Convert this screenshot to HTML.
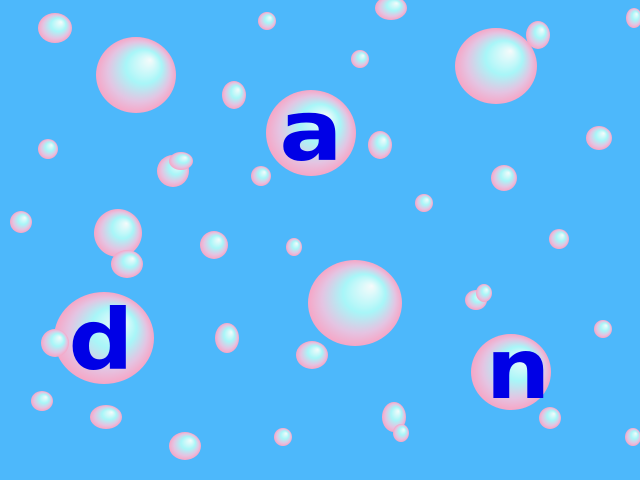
<!DOCTYPE html>
<html><head><meta charset="utf-8"><style>
html,body{margin:0;padding:0;background:#4db8fb;}
svg{display:block}
</style></head><body>
<svg width="640" height="480" viewBox="0 0 640 480" xmlns="http://www.w3.org/2000/svg">
<defs>
<radialGradient id="bg" cx="0.5" cy="0.5" r="0.5" fx="0.68" fy="0.3">
<stop offset="0" stop-color="#f6fbfb"/>
<stop offset="0.45" stop-color="#a8f6f8"/>
<stop offset="0.78" stop-color="#e4c4e2"/>
<stop offset="1" stop-color="#f6a6c6"/>
</radialGradient>
</defs>
<rect width="640" height="480" fill="#4db8fb"/>
<g id="bubbles"></g>
<text transform="translate(311,160) scale(1.12,1)" x="0" y="0" text-anchor="middle" font-family="DejaVu Sans, sans-serif" font-weight="bold" font-size="84" fill="#0000e6">a</text>
<text transform="translate(101,369) scale(1.08,1)" x="0" y="0" text-anchor="middle" font-family="DejaVu Sans, sans-serif" font-weight="bold" font-size="84" fill="#0000e6">d</text>
<text transform="translate(518,398) scale(1.08,1)" x="0" y="0" text-anchor="middle" font-family="DejaVu Sans, sans-serif" font-weight="bold" font-size="84" fill="#0000e6">n</text>
</svg>
<script>
const bubbleX=[55,267,391,136,496,538,634,360,234,311,48,173,181,261,380,504,599,424,21,118,127,214,294,559,355,476,484,104,55,227,312,603,511,42,106,394,401,550,185,283,633];
const bubbleY=[28,21,8,75,66,35,18,59,95,133,149,171,161,176,145,178,138,203,222,233,264,245,247,239,303,300,293,338,343,338,355,329,372,401,417,417,433,418,446,437,437];
const bubbleRX=[17,9,16,40,41,12,8,9,12,45,10,16,12,10,12,13,13,9,11,24,16,14,8,10,47,11,8,50,14,12,16,9,40,11,16,12,8,11,16,9,8];
const bubbleRY=[15,9,12,38,38,14,10,9,14,43,10,16,9,10,14,13,12,9,11,24,14,14,9,10,43,10,9,46,14,15,14,9,38,10,12,15,9,11,14,9,9];
const g=document.getElementById('bubbles');
for(let i=0;i<bubbleX.length;i++){
  const e=document.createElementNS('http://www.w3.org/2000/svg','ellipse');
  e.setAttribute('cx',bubbleX[i]);e.setAttribute('cy',bubbleY[i]);
  e.setAttribute('rx',bubbleRX[i]);e.setAttribute('ry',bubbleRY[i]);
  e.setAttribute('fill','url(#bg)');
  
  
  g.appendChild(e);
}
</script>
</body></html>
